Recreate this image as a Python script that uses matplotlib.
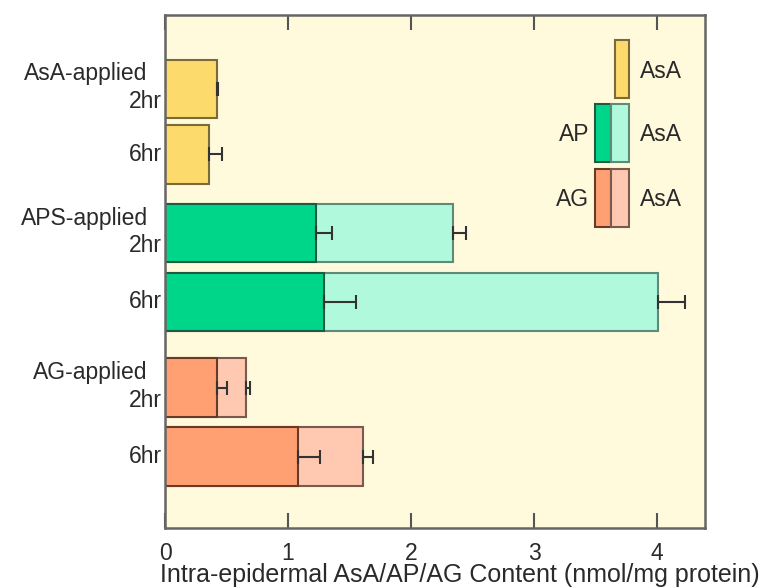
import matplotlib
matplotlib.use("Agg")
import matplotlib.pyplot as plt
from matplotlib.patches import Rectangle
import matplotlib.transforms as mtrans

plt.rcParams['font.family'] = ['Liberation Sans', 'DejaVu Sans']

# ---- data ----
groups = ["AsA-applied", "APS-applied", "AG-applied"]
times = ["2hr", "6hr"]
# first (dark) segment: AsA for AsA-applied, AP for APS, AG for AG
asa_only = [0.42, 0.36]
asa_only_err = [0.01, 0.10]
ap_part = [1.23, 1.29]
ap_part_err = [0.13, 0.26]
ap_total = [2.34, 4.01]
ap_total_err = [0.11, 0.22]
ag_part = [0.42, 1.08]
ag_part_err = [0.08, 0.18]
ag_total = [0.66, 1.61]
ag_total_err = [0.03, 0.08]
xticks = [0, 1, 2, 3, 4]
xlabel = "Intra-epidermal AsA/AP/AG Content (nmol/mg protein)"

# colors
bg = "#FFFADC"
yel, yel_e = "#FCDA6C", "#7A6A3A"
grn, grn_e = "#00D68A", "#1F5A44"
lgrn, lgrn_e = "#B0F9DC", "#5E8A78"
org, org_e = "#FFA072", "#6A3A28"
lorg, lorg_e = "#FFC8B0", "#7A5A50"
err_c = "#333333"
txt_c = "#2a2a2a"

fig = plt.figure(figsize=(7.62, 5.88), dpi=100)
ax = fig.add_axes([165/762, 1-528/588, 540/762, 513/588])
ax.set_facecolor(bg)

pos = [1.10, 2.08, 3.25, 4.28, 5.56, 6.59]
h = 0.87
ekw = dict(ecolor=err_c, elinewidth=1.5, capsize=5, capthick=1.5)

def onesided(e):
    return [[0]*len(e), e]

# AsA-applied
ax.barh(pos[0:2], asa_only, height=h, color=yel, edgecolor=yel_e, linewidth=1.5)
ax.errorbar(asa_only, pos[0:2], xerr=onesided(asa_only_err), fmt='none', **ekw)
# APS-applied
ax.barh(pos[2:4], ap_total, height=h, color=lgrn, edgecolor=lgrn_e, linewidth=1.5)
ax.barh(pos[2:4], ap_part, height=h, color=grn, edgecolor=grn_e, linewidth=1.5)
ax.errorbar(ap_part, pos[2:4], xerr=onesided(ap_part_err), fmt='none', **ekw)
ax.errorbar(ap_total, pos[2:4], xerr=onesided(ap_total_err), fmt='none', **ekw)
# AG-applied
ax.barh(pos[4:6], ag_total, height=h, color=lorg, edgecolor=lorg_e, linewidth=1.5)
ax.barh(pos[4:6], ag_part, height=h, color=org, edgecolor=org_e, linewidth=1.5)
ax.errorbar(ag_part, pos[4:6], xerr=onesided(ag_part_err), fmt='none', **ekw)
ax.errorbar(ag_total, pos[4:6], xerr=onesided(ag_total_err), fmt='none', **ekw)

ax.set_xlim(0, 540/123)
ax.set_ylim(513/67, 0)
ax.set_xticks(xticks)
ax.set_xticklabels([str(t) for t in xticks])
ax.tick_params(axis='x', direction='in', length=11, width=1.5, colors='#555555',
               labelcolor=txt_c, labelsize=16.5, pad=10, top=True)
ax.tick_params(axis='y', left=False, labelleft=False)
for s in ax.spines.values():
    s.set_color('#666666')
    s.set_linewidth(1.8)
ax.set_xlabel(xlabel, fontsize=18, color=txt_c, labelpad=0)
ax.xaxis.set_label_coords(0.546, -0.092)
ax.xaxis.label.set_va('center')

# y labels
tr = mtrans.blended_transform_factory(ax.transAxes, ax.transData)
fs = 16.5
for gi, g in enumerate(groups):
    p2 = pos[2*gi]
    p6 = pos[2*gi+1]
    ax.text(-0.032, p2 - 0.22, g, transform=tr, ha='right', va='center', fontsize=fs, color=txt_c)
    ax.text(-0.006, p2 + 0.19, times[0], transform=tr, ha='right', va='center', fontsize=fs, color=txt_c)
    ax.text(-0.006, p6, times[1], transform=tr, ha='right', va='center', fontsize=fs, color=txt_c)

# legend (drawn manually)
def box(x0, x1, y0, y1, fc, ec):
    ax.add_patch(Rectangle((x0, y0), x1 - x0, y1 - y0, facecolor=fc, edgecolor=ec, linewidth=1.5, zorder=5))

box(3.66, 3.77, 0.37, 1.24, yel, yel_e)
box(3.50, 3.63, 1.33, 2.19, grn, grn_e)
box(3.63, 3.77, 1.33, 2.19, lgrn, lgrn_e)
box(3.50, 3.63, 2.30, 3.16, org, org_e)
box(3.63, 3.77, 2.30, 3.16, lorg, lorg_e)
ax.text(3.86, 0.84, "AsA", fontsize=fs, va='center', ha='left', color=txt_c)
ax.text(3.86, 1.78, "AsA", fontsize=fs, va='center', ha='left', color=txt_c)
ax.text(3.86, 2.75, "AsA", fontsize=fs, va='center', ha='left', color=txt_c)
ax.text(3.45, 1.78, "AP", fontsize=fs, va='center', ha='right', color=txt_c)
ax.text(3.45, 2.75, "AG", fontsize=fs, va='center', ha='right', color=txt_c)

fig.savefig("out.png", dpi=100, facecolor='white')
